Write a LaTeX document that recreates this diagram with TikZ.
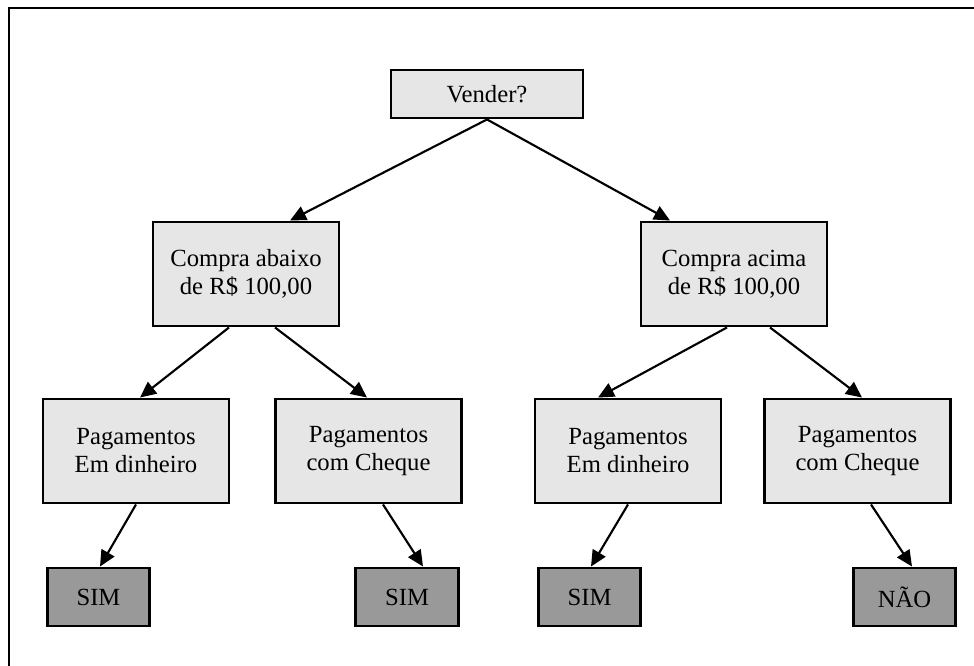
\documentclass[tikz,border=0pt]{standalone}
\usepackage{fontspec}
\setmainfont{Liberation Serif}
\usetikzlibrary{arrows.meta,calc}
\definecolor{boxlight}{HTML}{E6E6E6}
\definecolor{boxdark}{HTML}{999999}
\begin{document}
\begin{tikzpicture}[x=0.75pt,y=-0.75pt,
  every node/.style={font=\fontsize{18.5pt}{21pt}\selectfont, align=center, inner sep=0pt},
  question/.style={draw=black, line width=2.2pt, fill=boxlight},
  decision/.style={draw=black, line width=2.2pt, fill=boxdark, minimum width=77pt, minimum height=43.5pt},
  branchbox/.style={question, minimum width=139.5pt, minimum height=78pt},
  link/.style={line width=1.6pt, -{Triangle[length=12pt,width=11pt]}}]
\useasboundingbox (0,0) rectangle (974,666);
\fill[white] (0,0) rectangle (974,666);
% frame
\draw[line width=1.5pt] (9,666) -- (9,8) -- (974,8);

% root
\node[question, minimum width=144pt, minimum height=36pt] (vend) at (487,94) {Vender?};

% purchase value
\node[branchbox] (ca)  at (246,274) {Compra abaixo\\de R\$ 100,00};
\node[branchbox] (cac) at (734,274) {Compra acima\\de R\$ 100,00};

% payment type
\node[branchbox] (p1) at (136,451)   {Pagamentos\\Em dinheiro};
\node[branchbox] (p2) at (368.5,451) {Pagamentos\\com Cheque};
\node[branchbox] (p3) at (628,451)   {Pagamentos\\Em dinheiro};
\node[branchbox] (p4) at (857.5,451) {Pagamentos\\com Cheque};

% outcomes
\node[decision] (s1) at (98.5,597)  {SIM};
\node[decision] (s2) at (407,597)   {SIM};
\node[decision] (s3) at (589.5,597) {SIM};
\node[decision] (s4) at (904.5,597) {NÃO};

% connectors
\draw[link] (vend.south) -- ($(ca.north)+(44,0)$);
\draw[link] (vend.south) -- ($(cac.north)+(-64,0)$);
\draw[link] ($(ca.south)+(-17,0)$) -- ($(p1.north)+(4,0)$);
\draw[link] ($(ca.south)+(29,0)$) -- ($(p2.north)+(-1.5,0)$);
\draw[link] ($(cac.south)+(-7,0)$) -- ($(p3.north)+(-30,0)$);
\draw[link] ($(cac.south)+(36,0)$) -- ($(p4.north)+(4.5,0)$);
\draw[link] (p1.south) -- ($(s1.north)+(1.5,0)$);
\draw[link] ($(p2.south)+(14.5,0)$) -- ($(s2.north)+(16,0)$);
\draw[link] (p3.south) -- ($(s3.north)+(1.5,0)$);
\draw[link] ($(p4.south)+(13.5,0)$) -- ($(s4.north)+(7.5,0)$);
\end{tikzpicture}
\end{document}
